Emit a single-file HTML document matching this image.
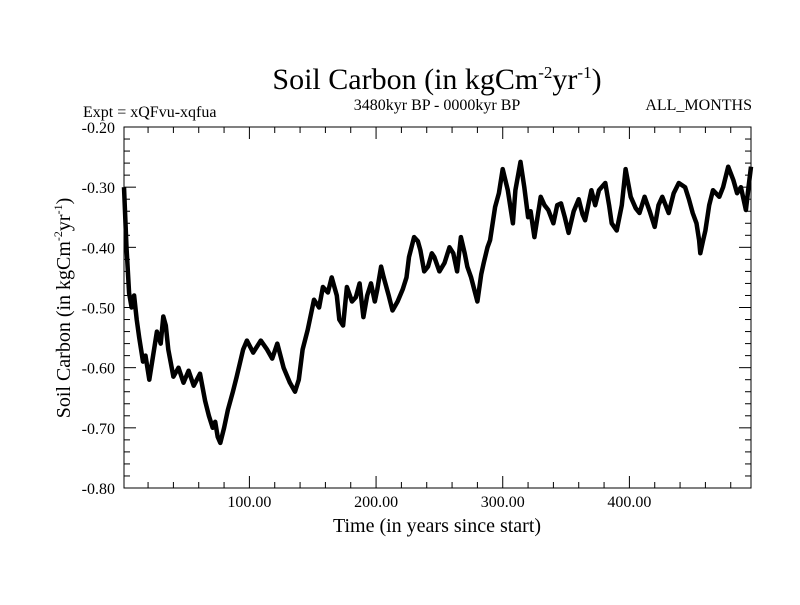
<!DOCTYPE html>
<html><head><meta charset="utf-8"><style>
body{margin:0;background:#fff;}
svg text{font-family:"Liberation Serif",serif;fill:#000;}
</style></head><body>
<svg id="chart" width="800" height="600" xmlns="http://www.w3.org/2000/svg">
<text x="437" y="89" font-size="30" text-anchor="middle">Soil Carbon (in kgCm<tspan dy="-11" font-size="17">-2</tspan><tspan dy="11">yr</tspan><tspan dy="-11" font-size="17">-1</tspan><tspan dy="11">)</tspan></text>
<text x="437" y="110" font-size="16" text-anchor="middle">3480kyr BP - 0000kyr BP</text>
<text x="83" y="117" font-size="16">Expt = xQFvu-xqfua</text>
<text x="752" y="110" font-size="16" text-anchor="end">ALL_MONTHS</text>
<text transform="translate(70,308) rotate(-90)" font-size="20" text-anchor="middle">Soil Carbon (in kgCm<tspan dy="-8" font-size="12">-2</tspan><tspan dy="8">yr</tspan><tspan dy="-8" font-size="12">-1</tspan><tspan dy="8">)</tspan></text>
<text x="437" y="532" font-size="20" text-anchor="middle">Time (in years since start)</text>
<g id="axes"></g>
<path id="series" fill="none" stroke="#000" stroke-width="4.5" stroke-linejoin="round"></path>
<rect x="124" y="127" width="627" height="361" fill="none" stroke="#000" stroke-width="1"></rect>
</svg>
<script>
const times=[1,3,5,7,9,11,13,16,18,21,24,27,30,32,34,36,40,44,48,52,56,61,65,68,71,73,75,77,80,83,87,90,95,98,103,109,114,118,122,127,132,136,139,142,146,151,155,158,162,165,169,171,174,177,181,184,187,190,193,196,199,201,204,206,210,213,217,221,224,226,230,233,235,238,241,244,246,250,254,258,261,264,267,270,272,275,277,280,283,285,288,290,294,297,300,304,308,310,314,317,320,322,325,330,333,336,340,343,346,349,352,356,360,363,365,370,373,376,381,384,386,390,394,397,401,405,408,412,416,420,423,426,431,435,439,444,447,450,453,455,456,458,460,463,466,471,474,478,482,485,488,492,494,496];
const values=[-0.30,-0.40,-0.476,-0.50,-0.48,-0.52,-0.55,-0.59,-0.58,-0.62,-0.58,-0.54,-0.56,-0.515,-0.53,-0.57,-0.615,-0.60,-0.625,-0.605,-0.63,-0.61,-0.655,-0.68,-0.70,-0.69,-0.715,-0.725,-0.70,-0.67,-0.64,-0.615,-0.57,-0.555,-0.575,-0.555,-0.57,-0.585,-0.56,-0.60,-0.625,-0.64,-0.62,-0.57,-0.537,-0.487,-0.50,-0.466,-0.475,-0.45,-0.48,-0.52,-0.53,-0.466,-0.49,-0.483,-0.46,-0.516,-0.48,-0.46,-0.49,-0.47,-0.432,-0.45,-0.48,-0.505,-0.49,-0.47,-0.45,-0.416,-0.383,-0.39,-0.405,-0.44,-0.432,-0.41,-0.416,-0.44,-0.426,-0.40,-0.41,-0.44,-0.383,-0.41,-0.432,-0.45,-0.466,-0.49,-0.445,-0.426,-0.40,-0.388,-0.333,-0.31,-0.27,-0.305,-0.36,-0.305,-0.258,-0.30,-0.35,-0.34,-0.383,-0.316,-0.33,-0.338,-0.36,-0.33,-0.327,-0.35,-0.376,-0.34,-0.32,-0.345,-0.355,-0.305,-0.33,-0.305,-0.293,-0.33,-0.36,-0.372,-0.33,-0.27,-0.316,-0.335,-0.343,-0.316,-0.34,-0.366,-0.33,-0.316,-0.343,-0.31,-0.293,-0.30,-0.32,-0.343,-0.36,-0.388,-0.41,-0.39,-0.372,-0.33,-0.305,-0.316,-0.30,-0.266,-0.288,-0.31,-0.30,-0.338,-0.30,-0.266];
const yTicks=[-0.20,-0.30,-0.40,-0.50,-0.60,-0.70,-0.80];
const xTicks=[100,200,300,400];
const X0=124,X1=751,Y0=127,Y1=488,TMIN=1,TMAX=496,VMAX=-0.2,VMIN=-0.8;
const xs=t=>X0+(t-TMIN)/(TMAX-TMIN)*(X1-X0);
const ys=v=>Y0+(VMAX-v)/(VMAX-VMIN)*(Y1-Y0);
const NS='http://www.w3.org/2000/svg';
const ax=document.getElementById('axes');
function ln(x1,y1,x2,y2,name){const l=document.createElementNS(NS,'line');l.setAttribute('x1',x1);l.setAttribute('y1',y1);l.setAttribute('x2',x2);l.setAttribute('y2',y2);l.setAttribute('stroke','#000');l.setAttribute('stroke-width','1');


ax.appendChild(l);}
function tx(x,y,s,anchor,name){const t=document.createElementNS(NS,'text');t.setAttribute('x',x);t.setAttribute('y',y);t.setAttribute('font-size','16');t.setAttribute('text-anchor',anchor);t.textContent=s;


ax.appendChild(t);}
for(let v=-0.8;v<=-0.199;v+=0.02){const y=ys(v);const major=Math.abs(Math.round(v*10)-v*10)<1e-6;const L=major?12:6;ln(X0,y,X0+L,y,'y-tick');ln(X1,y,X1-L,y,'y-tick-right');}
yTicks.forEach(v=>tx(115,ys(v)+6,v.toFixed(2),'end','y-tick-label'));
for(let t=20;t<=TMAX;t+=20){const x=xs(t);const major=t%100===0;const L=major?12:6;ln(x,Y1,x,Y1-L,'x-tick');ln(x,Y0,x,Y0+L,'x-tick-top');}
xTicks.forEach(t=>tx(xs(t),507,t.toFixed(2),'middle','x-tick-label'));
let d='';times.forEach((t,i)=>{d+=(i?'L':'M')+xs(t).toFixed(1)+' '+ys(values[i]).toFixed(1);});
document.getElementById('series').setAttribute('d',d);
</script>
</body></html>
